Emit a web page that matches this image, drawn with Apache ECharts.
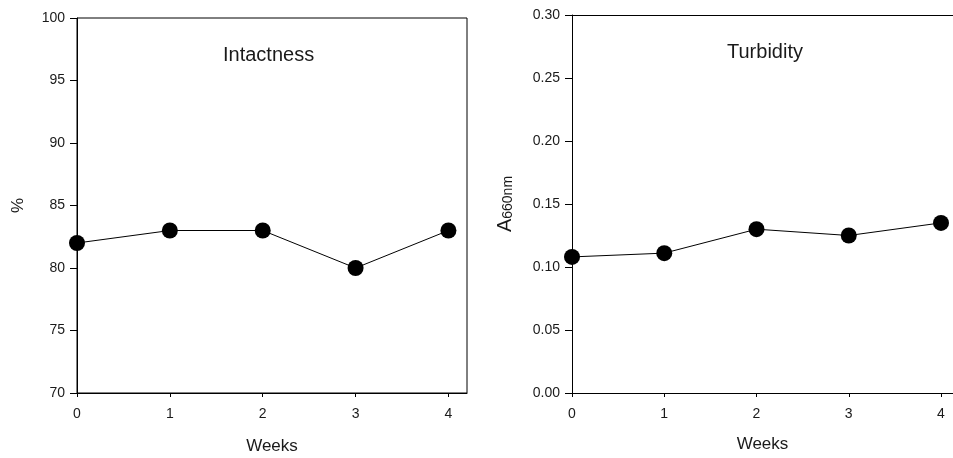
<!DOCTYPE html>
<html><head><meta charset="utf-8">
<script src="https://cdn.jsdelivr.net/npm/echarts@6/dist/echarts.min.js"></script>
<style>html,body{margin:0;padding:0;background:#fff}#c{width:953px;height:458px}</style>
</head><body><div id="c"></div>
<script>
const weeks = [0, 1, 2, 3, 4];
const intactness = [82, 83, 83, 80, 83];
const turbidity = [0.108, 0.111, 0.130, 0.125, 0.135];
const xTicks = [0, 1, 2, 3, 4];

const chart = echarts.init(document.getElementById('c'), null, {renderer: 'canvas'});
const font = 'Liberation Sans, Arial, sans-serif';
const txt = '#1a1a1a';
function xAxis(idx, gap, max) {
  return {
    type: 'value', gridIndex: idx, min: 0, max: max,
    name: 'Weeks', nameLocation: 'middle', nameGap: gap,
    nameTextStyle: {fontFamily: font, fontSize: 17, color: txt},
    axisLine: {show: true, onZero: false, lineStyle: {color: '#000', width: 1}},
    axisTick: {show: true, length: 4, inside: false, customValues: xTicks, lineStyle: {color: '#000'}},
    axisLabel: {customValues: xTicks, margin: 14, fontFamily: font, fontSize: 14, color: txt},
    splitLine: {show: false}
  };
}
function yAxis(idx, min, max, interval, fmt, extra) {
  return Object.assign({
    type: 'value', gridIndex: idx, min: min, max: max, interval: interval,
    axisLine: {show: true, lineStyle: {color: '#000', width: 1}},
    axisTick: {show: true, length: 7, lineStyle: {color: '#000'}},
    axisLabel: {margin: 12, fontFamily: font, fontSize: 14, color: txt, formatter: fmt},
    splitLine: {show: false}
  }, extra);
}
const series = (idx, data) => ({
  type: 'line', xAxisIndex: idx, yAxisIndex: idx,
  data: weeks.map((w, i) => [w, data[i]]),
  symbol: 'circle', symbolSize: 16,
  itemStyle: {color: '#000'},
  lineStyle: {color: '#000', width: 1},
  clip: false, animation: false
});
chart.setOption({
  animation: false,
  title: [
    {text: 'Intactness', left: 218, top: 40, textStyle: {fontFamily: font, fontSize: 20, fontWeight: 'normal', color: txt}},
    {text: 'Turbidity', left: 722, top: 37, textStyle: {fontFamily: font, fontSize: 20, fontWeight: 'normal', color: txt}}
  ],
  grid: [
    {left: 77, top: 18, width: 390, height: 375, outerBoundsMode: 'none', containLabel: false, show: true, borderColor: '#000', borderWidth: 1, backgroundColor: 'transparent'},
    {left: 572, top: 15, right: 0, height: 378, outerBoundsMode: 'none', containLabel: false, show: false}
  ],
  xAxis: [
    xAxis(0, 45, 4.2),
    xAxis(1, 43, 4.13),
    {type: 'value', gridIndex: 1, position: 'top', min: 0, max: 4.13,
     axisLine: {show: true, onZero: false, lineStyle: {color: '#000', width: 1}},
     axisTick: {show: false}, axisLabel: {show: false}, splitLine: {show: false}}
  ],
  yAxis: [
    yAxis(0, 70, 100, 5, v => String(v), {
      name: '%', nameLocation: 'middle', nameGap: 50, nameRotate: 90,
      nameTextStyle: {fontFamily: font, fontSize: 17, color: txt}
    }),
    yAxis(1, 0, 0.3, 0.05, v => v.toFixed(2), {
      name: '{a|A}{b|660nm}', nameLocation: 'middle', nameGap: 57, nameRotate: 90,
      nameTextStyle: {fontFamily: font, color: txt, rich: {
        a: {fontFamily: font, fontSize: 20, color: txt},
        b: {fontFamily: font, fontSize: 14, color: txt, verticalAlign: 'bottom'}
      }}
    })
  ],
  series: [series(0, intactness), series(1, turbidity)]
});
</script></body></html>
